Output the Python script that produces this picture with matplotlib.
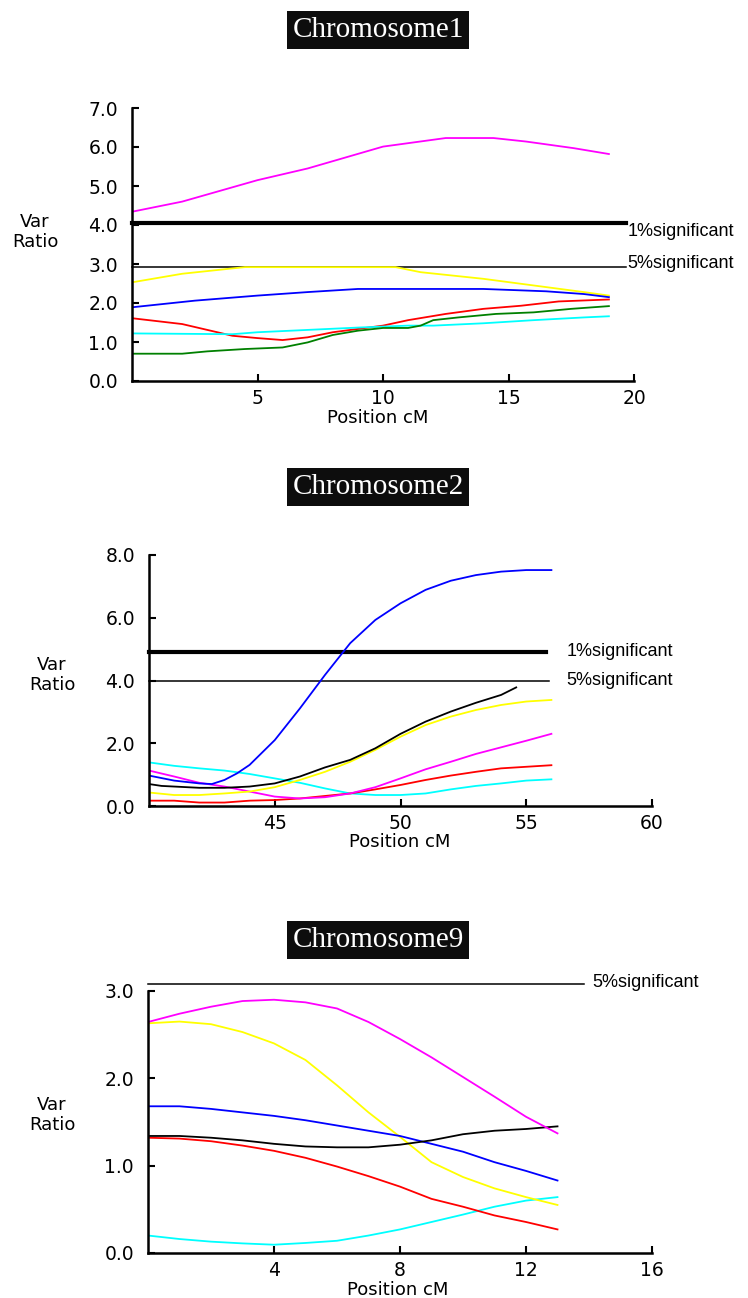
import numpy as np
import matplotlib
matplotlib.use("Agg")
import matplotlib.pyplot as plt

plt.rcParams['font.family'] = ['DejaVu Sans']

MAG, YEL, BLU, RED, CYA, GRN = '#ff00ff', '#ffff00', '#0000ff', '#ff0000', '#00ffff', '#008000'

# ---- Chromosome 1 ----
c1_mag_x = [0, 2, 5, 7, 10, 12.5, 14.4, 15.7, 17.6, 19]
c1_mag_y = [4.34, 4.6, 5.15, 5.45, 6.01, 6.23, 6.23, 6.14, 5.97, 5.82]
c1_yel_x = [0, 2, 3.9, 4.5, 10.5, 11.5, 14, 16, 18, 19]
c1_yel_y = [2.53, 2.75, 2.88, 2.92, 2.92, 2.79, 2.62, 2.45, 2.28, 2.19]
c1_blu_x = [0, 2.5, 5, 7, 9, 14, 16.5, 18, 19]
c1_blu_y = [1.89, 2.06, 2.19, 2.28, 2.36, 2.36, 2.30, 2.23, 2.15]
c1_red_x = [0, 2, 4, 5, 6, 7, 8, 10, 11, 12.5, 14, 15.5, 17, 19]
c1_red_y = [1.61, 1.46, 1.16, 1.10, 1.05, 1.12, 1.25, 1.42, 1.56, 1.72, 1.85, 1.93, 2.04, 2.09]
c1_cya_x = [0, 4, 5, 7, 9, 11, 12, 14, 16, 18, 19]
c1_cya_y = [1.22, 1.20, 1.25, 1.31, 1.37, 1.42, 1.42, 1.48, 1.56, 1.63, 1.66]
c1_grn_x = [0, 2, 3, 4.5, 6, 7, 8, 9, 10, 11, 11.5, 12, 13, 14.5, 16, 17.5, 19]
c1_grn_y = [0.70, 0.70, 0.76, 0.82, 0.86, 0.99, 1.18, 1.29, 1.36, 1.36, 1.42, 1.56, 1.63, 1.72, 1.76, 1.85, 1.92]
c1_sig1, c1_sig5 = 4.04, 2.92

# ---- Chromosome 2 ----
c2_x = list(range(40, 57))
c2_blu_x = [40, 41, 42, 42.5, 43, 43.5, 44, 45, 46, 47, 48, 49, 50, 51, 52, 53, 54, 55, 56]
c2_blu_y = [0.97, 0.81, 0.72, 0.70, 0.83, 1.04, 1.31, 2.10, 3.11, 4.18, 5.19, 5.93, 6.46, 6.89, 7.18, 7.36, 7.47, 7.52, 7.52]
c2_blk_x = [40, 40.5, 41, 42, 43, 44, 45, 46, 47, 48, 49, 50, 51, 52, 53, 54, 54.6]
c2_blk_y = [0.70, 0.64, 0.62, 0.58, 0.58, 0.62, 0.72, 0.94, 1.23, 1.47, 1.84, 2.30, 2.69, 3.01, 3.29, 3.54, 3.78]
c2_yel_y = [0.43, 0.35, 0.35, 0.40, 0.46, 0.60, 0.83, 1.09, 1.41, 1.79, 2.21, 2.58, 2.85, 3.06, 3.22, 3.33, 3.38]
c2_mag_y = [1.13, 0.94, 0.74, 0.62, 0.46, 0.30, 0.24, 0.28, 0.40, 0.60, 0.88, 1.17, 1.41, 1.66, 1.87, 2.08, 2.30]
c2_red_y = [0.17, 0.17, 0.11, 0.11, 0.17, 0.19, 0.24, 0.32, 0.40, 0.53, 0.67, 0.83, 0.97, 1.09, 1.20, 1.25, 1.30]
c2_cya_y = [1.39, 1.28, 1.20, 1.13, 1.02, 0.88, 0.74, 0.56, 0.40, 0.35, 0.35, 0.40, 0.53, 0.64, 0.72, 0.81, 0.85]
c2_sig1, c2_sig5 = 4.92, 4.0

# ---- Chromosome 9 ----
c9_x = list(range(0, 14))
c9_mag_y = [2.645, 2.74, 2.82, 2.885, 2.90, 2.87, 2.80, 2.645, 2.45, 2.24, 2.015, 1.79, 1.56, 1.37]
c9_yel_y = [2.63, 2.65, 2.62, 2.53, 2.40, 2.21, 1.92, 1.61, 1.33, 1.04, 0.87, 0.74, 0.64, 0.55]
c9_blu_y = [1.68, 1.68, 1.65, 1.61, 1.57, 1.52, 1.46, 1.40, 1.34, 1.25, 1.16, 1.04, 0.94, 0.83]
c9_blk_y = [1.34, 1.34, 1.32, 1.29, 1.25, 1.22, 1.21, 1.21, 1.24, 1.29, 1.36, 1.40, 1.42, 1.45]
c9_red_y = [1.32, 1.31, 1.28, 1.23, 1.17, 1.09, 0.99, 0.88, 0.76, 0.62, 0.53, 0.43, 0.355, 0.27]
c9_cya_y = [0.20, 0.16, 0.13, 0.11, 0.095, 0.115, 0.14, 0.20, 0.27, 0.355, 0.44, 0.53, 0.60, 0.64]
c9_sig5 = 3.08

W, H = 748, 1298
fig = plt.figure(figsize=(W / 100, H / 100), dpi=100)


def make_axes(l, r, t, b, xlim, ylim, xticks, yticks):
    ax = fig.add_axes([l / W, 1 - b / H, (r - l) / W, (b - t) / H])
    ax.set_xlim(*xlim)
    ax.set_ylim(*ylim)
    for s in ['top', 'right']:
        ax.spines[s].set_visible(False)
    for s in ['left', 'bottom']:
        ax.spines[s].set_linewidth(1.8)
    ax.set_xticks(xticks)
    ax.set_yticks(yticks)
    ax.set_yticklabels(['%.1f' % v for v in yticks])
    ax.tick_params(direction='in', length=5, width=1.5, labelsize=13.5)
    ax.tick_params(axis='y', pad=10)
    ax.tick_params(axis='x', pad=6)
    ax.patch.set_alpha(0)
    return ax


def title(y, txt):
    fig.text(378 / W, 1 - y / H, txt, ha='center', va='center', color='white',
             fontsize=21, family=['Liberation Serif', 'DejaVu Serif'],
             bbox=dict(facecolor='#0d0d0d', edgecolor='none', pad=4))


def side_labels(x, y, xl, yl):
    fig.text(x / W, 1 - y / H, 'Var\nRatio', ha='center', va='center',
             fontsize=13, linespacing=1.1)
    fig.text(xl / W, 1 - yl / H, 'Position cM', ha='center', va='center', fontsize=13)


def sig_label(ax, x, y, txt):
    ax.text(x, y, txt, ha='left', va='center', fontsize=13, clip_on=False,
            family=['Liberation Sans', 'DejaVu Sans'])


lw = 1.3

# Panel 1
title(30, 'Chromosome1')
ax1 = make_axes(132, 634, 108, 381, (0, 20), (0, 7), [5, 10, 15, 20], [0, 1, 2, 3, 4, 5, 6, 7])
ax1.set_xticklabels(['5', '10', '15', '20'])
ax1.plot([0, 19.7], [c1_sig1] * 2, color='black', lw=3, clip_on=False)
ax1.plot([0, 19.7], [c1_sig5] * 2, color='black', lw=1.1, clip_on=False)
ax1.plot(c1_mag_x, c1_mag_y, color=MAG, lw=lw)
ax1.plot(c1_yel_x, c1_yel_y, color=YEL, lw=lw)
ax1.plot(c1_blu_x, c1_blu_y, color=BLU, lw=lw)
ax1.plot(c1_red_x, c1_red_y, color=RED, lw=lw)
ax1.plot(c1_cya_x, c1_cya_y, color=CYA, lw=lw)
ax1.plot(c1_grn_x, c1_grn_y, color=GRN, lw=lw)
sig_label(ax1, 19.75, c1_sig1 - 0.2, '1%significant')
sig_label(ax1, 19.75, c1_sig5 + 0.1, '5%significant')
side_labels(35, 232, 378, 418)

# Panel 2
title(487, 'Chromosome2')
ax2 = make_axes(149, 652, 555, 806, (40, 60), (0, 8), [45, 50, 55, 60], [0, 2, 4, 6, 8])
ax2.plot([40, 55.8], [c2_sig1] * 2, color='black', lw=3, clip_on=False)
ax2.plot([40, 55.9], [c2_sig5] * 2, color='black', lw=1.1, clip_on=False)
ax2.plot(c2_x, c2_cya_y, color=CYA, lw=lw)
ax2.plot(c2_x, c2_red_y, color=RED, lw=lw)
ax2.plot(c2_x, c2_mag_y, color=MAG, lw=lw)
ax2.plot(c2_x, c2_yel_y, color=YEL, lw=lw)
ax2.plot(c2_blk_x, c2_blk_y, color='black', lw=lw)
ax2.plot(c2_blu_x, c2_blu_y, color=BLU, lw=lw)
sig_label(ax2, 56.6, c2_sig1, '1%significant')
sig_label(ax2, 56.6, c2_sig5, '5%significant')
side_labels(52, 675, 400, 842)

# Panel 3
title(940, 'Chromosome9')
ax3 = make_axes(148, 652, 991, 1253, (0, 16), (0, 3), [4, 8, 12, 16], [0, 1, 2, 3])
ax3.plot([0, 13.85], [c9_sig5] * 2, color='black', lw=1.1, clip_on=False)
ax3.plot(c9_x, c9_cya_y, color=CYA, lw=lw)
ax3.plot(c9_x, c9_red_y, color=RED, lw=lw)
ax3.plot(c9_x, c9_yel_y, color=YEL, lw=lw)
ax3.plot(c9_x, c9_blu_y, color=BLU, lw=lw)
ax3.plot(c9_x, c9_blk_y, color='black', lw=lw)
ax3.plot(c9_x, c9_mag_y, color=MAG, lw=lw)
sig_label(ax3, 14.1, c9_sig5 + 0.02, '5%significant')
side_labels(52, 1115, 398, 1290)

fig.savefig('out.png', dpi=100)
